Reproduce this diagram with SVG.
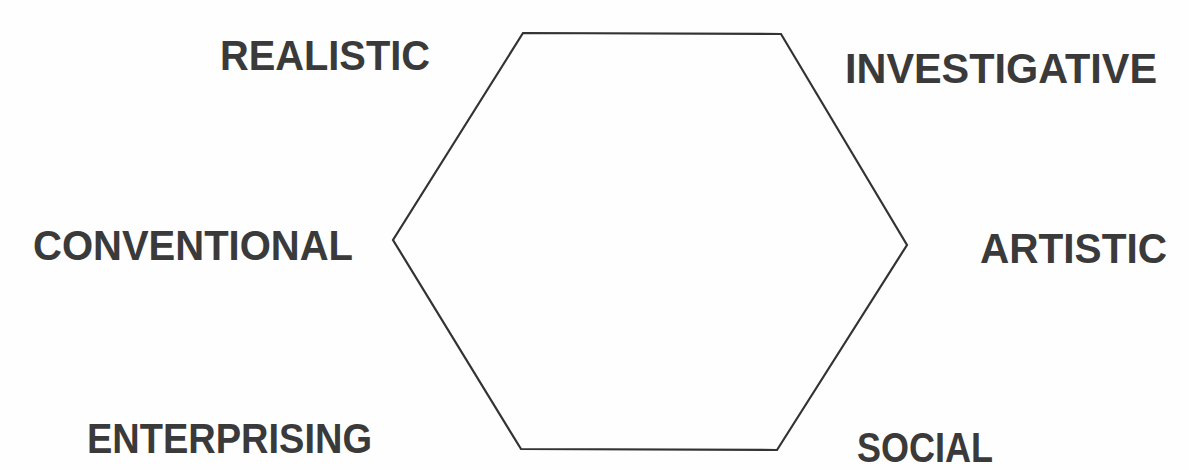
<svg xmlns="http://www.w3.org/2000/svg" width="1189" height="470" viewBox="0 0 1189 470">
<style>
.lbl{font-family:"Liberation Sans",Arial,sans-serif;font-weight:bold;font-size:43px;fill:#3a3a3a}
.hex{fill:none;stroke:#333;stroke-width:2.2;stroke-linejoin:miter}
</style>
<rect width="1189" height="470" fill="#fefefe"/>
<g id="hexagon">
<polygon class="hex" points="523,33 781,34 907,245 777,450 521,449 393,240"/>
</g>
<g id="connectors"></g>
<g id="realistic"><text class="lbl" x="220" y="70" textLength="210" lengthAdjust="spacingAndGlyphs">REALISTIC</text></g>
<g id="investigative"><text class="lbl" x="845" y="83" textLength="312" lengthAdjust="spacingAndGlyphs">INVESTIGATIVE</text></g>
<g id="conventional"><text class="lbl" x="33" y="260" textLength="320" lengthAdjust="spacingAndGlyphs">CONVENTIONAL</text></g>
<g id="artistic"><text class="lbl" x="980" y="263" textLength="187" lengthAdjust="spacingAndGlyphs">ARTISTIC</text></g>
<g id="enterprising"><text class="lbl" x="87" y="453" textLength="285" lengthAdjust="spacingAndGlyphs">ENTERPRISING</text></g>
<g id="social"><text class="lbl" x="857" y="462" textLength="136" lengthAdjust="spacingAndGlyphs">SOCIAL</text></g>
</svg>
